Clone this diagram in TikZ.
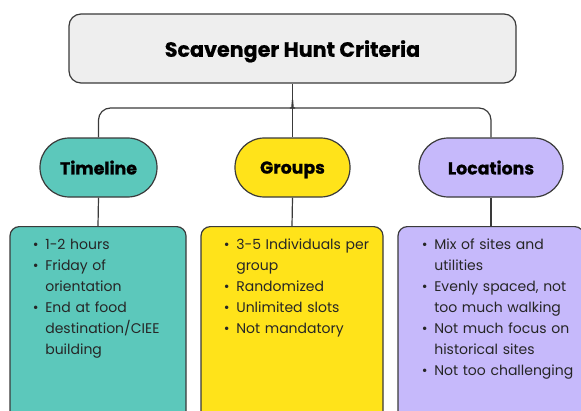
\documentclass[tikz,border=0pt]{standalone}
\usepackage{fontspec}
\setmainfont{Poppins}[BoldFeatures={FakeBold=0.8}]
\usepackage{enumitem}
\setlist[itemize]{leftmargin=10pt,labelsep=5pt,itemsep=0pt,topsep=0pt,parsep=0pt,partopsep=0pt,label=\textbullet}
\definecolor{titlegray}{HTML}{EEEEEE}
\definecolor{linegray}{HTML}{3A3A3A}
\definecolor{tealc}{HTML}{5CC8BB}
\definecolor{yellowc}{HTML}{FFE31A}
\definecolor{lilac}{HTML}{C6B9FB}
\definecolor{bodytext}{HTML}{262626}
\begin{document}
\begin{tikzpicture}[x=0.75pt,y=-0.75pt,
	link/.style={draw=linegray,line width=0.9pt},
	titlebox/.style={link,fill=titlegray,rounded corners=9pt,minimum width=335.25pt,minimum height=51.75pt,text depth=0pt,font=\bfseries\fontsize{15.5}{17}\selectfont},
	pill/.style={link,rounded corners=22pt,minimum height=44.25pt,text depth=0pt,font=\bfseries\fontsize{13}{15}\selectfont},
	listbox/.style={link,rounded corners=7pt,anchor=north,minimum height=153pt},
	listtext/.style={anchor=north west,inner sep=0pt,text width=150pt,text=bodytext,font=\fontsize{10.5}{15.75}\selectfont}]
\useasboundingbox (0,0) rectangle (581,410);
\clip (0,0) rectangle (581,410);
% top of the tree
\node[titlebox] (crit) at (292.5,48.5) {Scavenger Hunt Criteria};
% the three headings
\node[pill,fill=tealc,minimum width=87.75pt] (tl) at (98.5,167.5) {Timeline};
\node[pill,fill=yellowc,minimum width=86.25pt] (gr) at (292.5,167.5) {Groups};
\node[pill,fill=lilac,minimum width=108pt] (lc) at (491,167.5) {Locations};
% boxes under the headings
\node[listbox,fill=tealc,minimum width=132pt] (tl-box) at (98,226) {};
\node[listbox,fill=yellowc,minimum width=136.5pt] (gr-box) at (292,226) {};
\node[listbox,fill=lilac,minimum width=139.5pt] (lc-box) at (491,226) {};
% fork
\coordinate (fork) at (292.5,100);
\draw[link] (crit.south) -- (gr.north);
\draw[link,rounded corners=9pt] (fork) .. controls (292.5,106) and (290,108) .. (283,108) -- (98.5,108) -- (tl.north);
\draw[link,rounded corners=9pt] (fork) .. controls (292.5,106) and (295,108) .. (302,108) -- (491,108) -- (lc.north);
\foreach \n in {tl,gr,lc} {
	\draw[link] (\n.south) -- (\n-box.north);
}
% lists
\node[listtext] (tl-list) at (31.7,228) {\begin{itemize}
	\item 1-2 hours
	\item Friday of\\orientation
	\item End at food\\destination/CIEE\\building
\end{itemize}};
\node[listtext] (gr-list) at (222.7,228) {\begin{itemize}
	\item 3-5 Individuals per\\group
	\item Randomized
	\item Unlimited slots
	\item Not mandatory
\end{itemize}};
\node[listtext] (lc-list) at (420.7,228) {\begin{itemize}
	\item Mix of sites and\\utilities
	\item Evenly spaced, not\\too much walking
	\item Not much focus on\\historical sites
	\item Not too challenging
\end{itemize}};
\end{tikzpicture}
\end{document}
